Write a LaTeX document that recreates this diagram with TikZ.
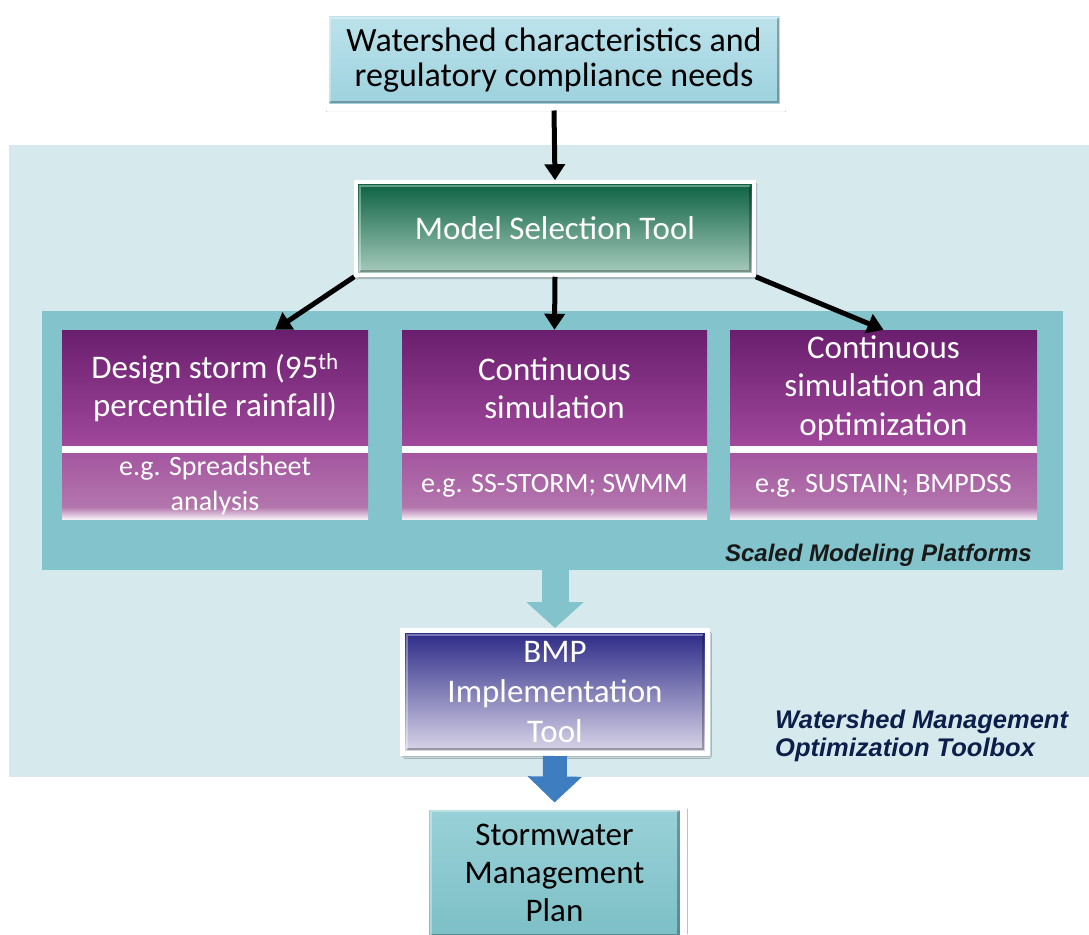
\documentclass[tikz,border=0pt]{standalone}
\usepackage{fontspec}
\setmainfont{Carlito}
\newfontfamily\labelfont{Liberation Sans}
\usetikzlibrary{arrows.meta,shadows.blur}

\definecolor{panelLight}{HTML}{D6EAEE}
\definecolor{panelDark}{HTML}{82C3CC}
\definecolor{inTop}{HTML}{BDE3EC}
\definecolor{inBot}{HTML}{9CD1DD}
\definecolor{mstTop}{HTML}{0A6040}
\definecolor{mstMid}{HTML}{2F7C5D}
\definecolor{mstBot}{HTML}{AACDC0}
\definecolor{purTop}{HTML}{6A1E6E}
\definecolor{purMid}{HTML}{912490}
\definecolor{purBot}{HTML}{A0489B}
\definecolor{egTop}{HTML}{A456A0}
\definecolor{egMid}{HTML}{B376AD}
\definecolor{egBot}{HTML}{F6EEF5}
\definecolor{bmpTop}{HTML}{2A2886}
\definecolor{bmpMid}{HTML}{6563AC}
\definecolor{bmpBot}{HTML}{DCD8EA}
\definecolor{planTop}{HTML}{9AD1D8}
\definecolor{planBot}{HTML}{7CBFC6}
\definecolor{blueArrow}{HTML}{3E7DC0}
\definecolor{navy}{HTML}{0C1E4A}

% lower halves stay purple most of the way down, then fade to white
\pgfdeclareverticalshading{egshade}{100bp}{%
  color(0bp)=(egBot); color(25bp)=(egBot); color(34bp)=(egMid);
  color(75bp)=(egTop); color(100bp)=(egTop)}

\begin{document}
\begin{tikzpicture}[x=1pt,y=-1pt,
  maintext/.style={font=\fontsize{33}{38}\selectfont, align=center},
  egtext/.style={font=\fontsize{28}{35}\selectfont, align=center, text=white},
  framed/.style={draw=white, line width=#1,
    blur shadow={shadow xshift=2pt, shadow yshift=-3pt, shadow blur steps=6, shadow opacity=35}},
  bevel/.style={path picture={
    \draw[black, opacity=.28, line width=2.5pt]
      ([shift={(#1,#1)}]path picture bounding box.south west) -|
      ([shift={(-#1,-#1)}]path picture bounding box.north east);
    \draw[white, opacity=.35, line width=2pt]
      ([shift={(#1,#1)}]path picture bounding box.south west) |-
      ([shift={(-#1,-#1)}]path picture bounding box.north east);}},
  panel/.style={inner sep=0, anchor=north west},
  upper/.style={maintext, text=white, inner sep=0, minimum height=116pt,
    top color=purTop, middle color=purMid, bottom color=purBot},
  lower/.style={egtext, inner sep=0, minimum height=66pt, shading=egshade},
  blackarrow/.style={line width=5pt, black, -{Triangle[width=20pt,length=16pt]}},
  tag/.style={inner sep=0, font=\labelfont\bfseries\itshape\fontsize{24}{28}\selectfont}
]
\useasboundingbox (0,0) rectangle (1089,934);
\clip (0,0) rectangle (1089,934);
\fill[white] (0,0) rectangle (1089,934);

% background panels
\node[panel, fill=panelLight, minimum width=1085pt, minimum height=632pt] (toolbox) at (9,145) {};
\node[panel, fill=panelDark, minimum width=1021pt, minimum height=259pt] (platforms) at (42,311) {};

% top input box
\node[framed=7pt, bevel=5pt, maintext, font=\fontsize{34}{35}\selectfont,
  top color=inTop, bottom color=inBot, minimum width=458pt, minimum height=94pt]
  (needs) at (554,60) {Watershed characteristics and\\regulatory compliance needs};

% model selection
\node[framed=3.5pt, bevel=4pt, maintext, text=white,
  top color=mstTop, middle color=mstMid, bottom color=mstBot,
  minimum width=398pt, minimum height=93pt]
  (mst) at (555,228.5) {Model Selection Tool};

% three modeling approaches
\node[upper, minimum width=306pt] (design) at (215,388)
  {Design storm (95\textsuperscript{th}\\percentile rainfall)};
\node[lower, minimum width=306pt] (designeg) at (215,486) {e.g. Spreadsheet\\analysis};
\node[upper, minimum width=305pt] (cont) at (554.5,388) {Continuous\\simulation};
\node[lower, minimum width=305pt] (conteg) at (554.5,486) {e.g. SS-STORM; SWMM};
\node[upper, minimum width=307pt, font=\fontsize{33}{38.5}\selectfont] (opt) at (883.5,388)
  {Continuous\\simulation and\\optimization};
\node[lower, minimum width=307pt] (opteg) at (883.5,486) {e.g. SUSTAIN; BMPDSS};

% white separators between the two halves
\fill[white] (design.south west) rectangle (designeg.north east);
\fill[white] (cont.south west) rectangle (conteg.north east);
\fill[white] (opt.south west) rectangle (opteg.north east);

% BMP tool and final plan
\node[framed=5pt, bevel=4.5pt, maintext, font=\fontsize{33}{40}\selectfont, text=white,
  top color=bmpTop, middle color=bmpMid, bottom color=bmpBot,
  minimum width=305pt, minimum height=123pt]
  (bmp) at (555,692) {BMP\\Implementation\\Tool};
\node[framed=7pt, bevel=5pt, maintext, font=\fontsize{33}{38}\selectfont,
  top color=planTop, bottom color=planBot, minimum width=258pt, minimum height=134pt]
  (plan) at (554.5,873) {Stormwater\\Management\\Plan};

% connectors
\draw[blackarrow] (needs.south) -- (mst.north);
\draw[blackarrow] (mst.south west) -- ([xshift=60pt]design.north);
\draw[blackarrow] (mst.south) -- (cont.north);
\draw[blackarrow] (mst.south east) -- (opt.north);
\draw[line width=27pt, panelDark, -{Triangle[width=56pt,length=26pt]}]
  (platforms.south -| bmp.north) -- (bmp.north);
\draw[line width=24pt, blueArrow, -{Triangle[width=53pt,length=26pt]}]
  (bmp.south) -- (plan.north);

% panel captions
\node[tag, anchor=base east, text=black!90] (smp) at (1032,561) {Scaled Modeling Platforms};
\node[tag, font=\labelfont\bfseries\itshape\fontsize{25.5}{28}\selectfont,
  anchor=west, align=left, text=navy] (wmot) at (775,736)
  {Watershed Management\\Optimization Toolbox};
\end{tikzpicture}
\end{document}
